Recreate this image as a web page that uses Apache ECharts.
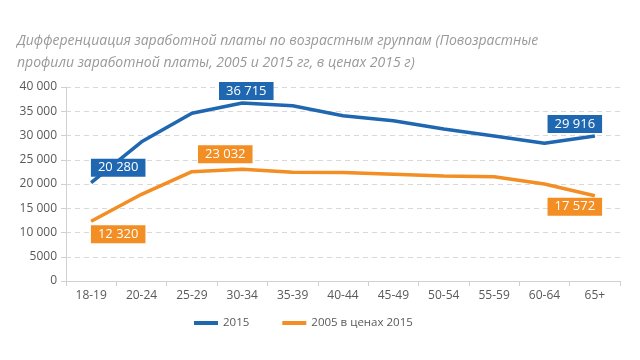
<!DOCTYPE html>
<html><head><meta charset="utf-8">
<script src="https://cdn.jsdelivr.net/npm/echarts@6/dist/echarts.min.js"></script>
<style>html,body{margin:0;padding:0;background:#fff}#c{width:640px;height:360px}</style>
</head><body><div id="c"></div>
<script>
const categories = ['18-19','20-24','25-29','30-34','35-39','40-44','45-49','50-54','55-59','60-64','65+'];
const values2015 = [20280, 28700, 34580, 36715, 36150, 34090, 33060, 31340, 29900, 28390, 29916];
const values2005 = [12320, 17870, 22540, 23032, 22410, 22350, 22000, 21650, 21510, 20000, 17572];
const seriesNames = ['2015', '2005 в ценах 2015'];
const yTicks = [0, 5000, 10000, 15000, 20000, 25000, 30000, 35000, 40000];
const titleText = 'Дифференциация заработной платы по возрастным группам (Повозрастные\nпрофили заработной платы, 2005 и 2015 гг, в ценах 2015 г)';

const BLUE = '#1f67b1', ORANGE = '#f28e23';
function fmt(v){ return v >= 10000 ? String(v).replace(/\B(?=(\d{3})+(?!\d))/g, ' ') : String(v); }
function labelled(vals, color, map){
  return vals.map((v, i) => {
    if (!(i in map)) return v;
    return { value: v, label: { show: true, position: 'inside', offset: map[i],
      formatter: p => fmt(p.value), color: '#fff', fontSize: 13, fontFamily: 'Open Sans',
      backgroundColor: color, padding: [2, 7, 1, 7], lineHeight: 15 } };
  });
}
const chart = echarts.init(document.getElementById('c'));
chart.setOption({
  animation: false,
  title: { text: titleText, left: 12, top: 25,
    textStyle: { fontFamily: 'Open Sans', fontStyle: 'italic', fontWeight: 'normal', fontSize: 14, color: '#999999', lineHeight: 22 } },
  legend: { left: 189, top: 312, itemWidth: 24, itemHeight: 4, itemGap: 33, icon: 'rect',
    textStyle: { fontFamily: 'Open Sans', fontSize: 11.5, color: '#595959' }, data: seriesNames },
  grid: { left: 66, right: 20, top: 87, bottom: 79 },
  xAxis: { type: 'category', data: categories, boundaryGap: true,
    axisLine: { lineStyle: { color: '#d0d0d0' } }, axisTick: { show: true, length: 5, lineStyle: { color: '#d0d0d0' } },
    axisLabel: { color: '#595959', fontSize: 12, fontFamily: 'Open Sans', margin: 9 } },
  yAxis: { type: 'value', min: 0, max: 40000, interval: 5000,
    axisLine: { show: true, lineStyle: { color: '#d0d0d0' } }, axisTick: { show: true, inside: false, length: 5, lineStyle: { color: '#d0d0d0' } },
    splitLine: { lineStyle: { color: '#d9d9d9', type: [5, 4] } },
    axisLabel: { color: '#595959', fontSize: 12, fontFamily: 'Open Sans', margin: 9, formatter: fmt } },
  series: [
    { name: seriesNames[0], type: 'line', symbol: 'circle', symbolSize: 1, color: BLUE,
      lineStyle: { width: 3.5, color: BLUE }, itemStyle: { color: BLUE }, z: 3,
      data: labelled(values2015, BLUE, { 0: [27, -15], 3: [4, -12], 10: [-20, -12] }) },
    { name: seriesNames[1], type: 'line', symbol: 'circle', symbolSize: 1, color: ORANGE,
      lineStyle: { width: 3.5, color: ORANGE }, itemStyle: { color: ORANGE }, z: 2,
      data: labelled(values2005, ORANGE, { 0: [27, 13], 3: [-17, -15], 10: [-20, 11] }) }
  ]
});
</script></body></html>
